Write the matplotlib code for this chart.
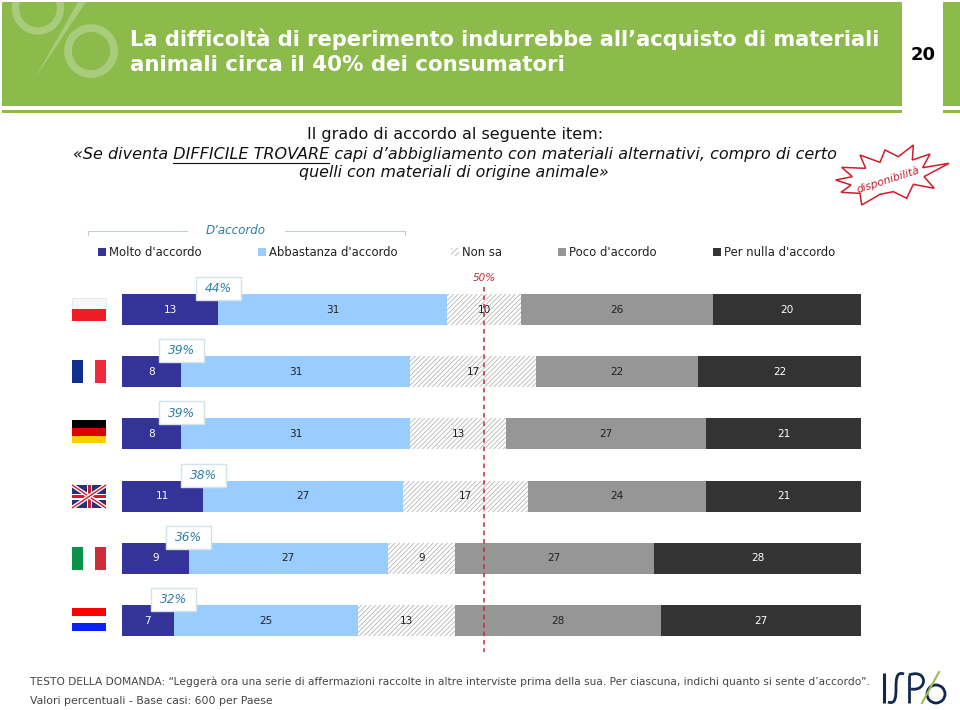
import numpy as np
import matplotlib
matplotlib.use('Agg')
from matplotlib import pyplot as plt
from matplotlib.patches import Rectangle, Polygon, Ellipse, PathPatch
from matplotlib.path import Path

countries = ['Polonia', 'Francia', 'Germania', 'Regno Unito', 'Italia', 'Olanda']
series_names = ["Molto d'accordo", "Abbastanza d'accordo", 'Non sa', "Poco d'accordo", "Per nulla d'accordo"]
molto = [13, 8, 8, 11, 9, 7]
abbastanza = [31, 31, 31, 27, 27, 25]
non_sa = [10, 17, 13, 17, 9, 13]
poco = [26, 22, 27, 24, 27, 28]
per_nulla = [20, 22, 21, 21, 28, 27]
totale_accordo = ['44%', '39%', '39%', '38%', '36%', '32%']

GREEN = '#8cbb4b'
LIGHT_GREEN = '#a8cb7c'
colors = ['#333399', '#99ccff', 'white', '#969696', '#333333']
label_colors = ['white', '#222222', '#222222', '#222222', 'white']
BLUE_TXT = '#2f7fa8'
RED = '#c8283c'

plt.rcParams['hatch.linewidth'] = 0.6
fig = plt.figure(figsize=(9.6, 7.1), dpi=100)

# page layer, in pixels of the slide
bg = fig.add_axes([0, 0, 1, 1])
bg.set_xlim(0, 960)
bg.set_ylim(710, 0)
bg.axis('off')

header = Rectangle((2, 2), 900, 104, fc=GREEN, ec='none')
bg.add_patch(header)
bg.add_patch(Rectangle((2, 110), 900, 3, fc=GREEN, ec='none'))
bg.add_patch(Rectangle((943, 2), 17, 104, fc=GREEN, ec='none'))
bg.add_patch(Rectangle((943, 110), 17, 3, fc=GREEN, ec='none'))

# % watermark
top_ring = Ellipse((38, 8), 45, 46, fc='none', ec=LIGHT_GREEN, lw=5.2)
bg.add_patch(top_ring)
top_ring.set_clip_path(header)
bg.add_patch(Ellipse((91, 51), 46, 46, fc='none', ec=LIGHT_GREEN, lw=5.6))
bg.add_patch(Polygon([[86, 2], [78, 2], [35, 78]], fc=LIGHT_GREEN, ec='none'))

bg.text(130, 39, "La difficoltà di reperimento indurrebbe all’acquisto di materiali", color='white',
        fontsize=15.15, fontweight='bold', va='center', ha='left')
bg.text(130, 65, 'animali circa il 40% dei consumatori', color='white',
        fontsize=15.4, fontweight='bold', va='center', ha='left')
bg.text(923, 55, '20', color='black', fontsize=13, fontweight='bold', va='center', ha='center')

bg.text(455, 134, 'Il grado di accordo al seguente item:', fontsize=11.5, ha='center', va='center', color='#111111')
bg.text(455, 154, '«Se diventa DIFFICILE TROVARE capi d’abbigliamento con materiali alternativi, compro di certo',
        fontsize=11.55, style='italic', ha='center', va='center', color='#111111')
bg.text(454, 173, 'quelli con materiali di origine animale»', fontsize=11.4, style='italic',
        ha='center', va='center', color='#111111')
bg.plot([173, 329], [162.5, 162.5], color='#111111', lw=0.8)

star_x = np.array([265, 262, 315, 293, 372, 297, 328, 265, 245, 205, 165, 110, 105, 48, 78, 32, 82, 50, 122, 105, 165, 180, 220])
star_y = np.array([30, 75, 57, 98, 85, 125, 160, 148, 190, 170, 178, 210, 175, 172, 150, 135, 125, 97, 100, 60, 82, 45, 65])
bg.add_patch(Polygon(np.column_stack([825 + star_x / 3, 135 + star_y / 3]), fc='white', ec='#d01c2c', lw=1.1,
                     joinstyle='miter'))
bg.text(888, 180, 'disponibilità', color='#c0202f', fontsize=7.8, style='italic', rotation=18,
        ha='center', va='center')

# D'accordo bracket
bg.plot([88, 88, 187], [235, 231, 231], color='#bcd0d8', lw=0.8)
bg.plot([285, 405, 405], [231, 231, 235], color='#bcd0d8', lw=0.8)
bg.text(236, 231, 'D’accordo', color=BLUE_TXT, style='italic', fontsize=8.6, ha='center', va='center')

# legend drawn by hand to keep the slide's spacing
leg_x = [98, 258, 451, 558, 713]
for i, name in enumerate(series_names):
    if name == 'Non sa':
        bg.add_patch(Rectangle((leg_x[i], 248), 8, 8, fc='white', ec='#b5b5b5', lw=0, hatch='//////'))
    else:
        bg.add_patch(Rectangle((leg_x[i], 248), 8, 8, fc=colors[i], ec='none'))
    bg.text(leg_x[i] + 11, 252.5, name, fontsize=8.35, color='#222222', ha='left', va='center')

# flags
def band(x, y, w, h, c):
    bg.add_patch(Rectangle((x, y), w, h, fc=c, ec='none'))

band(72, 298, 34, 11, '#f7f7f7')
bg.add_patch(Rectangle((72, 298), 34, 11, fc='none', ec='#e4e4e4', lw=0.5))
band(72, 309, 34, 12, '#ee1c25')
band(72, 360, 11, 23, '#0f2f8f')
band(95, 360, 11, 23, '#ee2a3c')
band(72, 420, 34, 8, '#000000')
band(72, 428, 34, 7.5, '#dd0000')
band(72, 435.5, 34, 7.5, '#ffce00')
band(72, 485, 34, 23, '#2a2f78')
for ys in ([485, 508], [508, 485]):
    bg.plot([72, 106], ys, color='white', lw=3, solid_capstyle='butt')
    bg.plot([72, 106], ys, color='#cf1b2b', lw=1, solid_capstyle='butt')
band(87, 485, 5, 23, 'white')
band(72, 493.5, 34, 6, 'white')
band(88, 485, 3, 23, '#cf1b2b')
band(72, 495, 34, 3, '#cf1b2b')
band(72, 547, 11, 23, '#0a9348')
band(95, 547, 11, 23, '#ce2b37')
band(72, 608, 34, 7.5, '#ff0000')
band(72, 623, 34, 7.5, '#0a22ff')

# stacked bars
ax = fig.add_axes([122 / 960, 1 - 651.6 / 710, (861 - 122) / 960, 373.2 / 710])
ax.set_xlim(0, 100)
ax.set_ylim(5.5, -0.5)
ax.axis('off')
ax.patch.set_alpha(0)

y = np.arange(len(countries))
left = np.zeros(len(countries))
for i, vals in enumerate([molto, abbastanza, non_sa, poco, per_nulla]):
    vals = np.array(vals)
    if i == 2:
        ax.barh(y, vals, left=left, height=0.5, color='white', edgecolor='#b5b5b5', linewidth=0, hatch='///////')
    else:
        ax.barh(y, vals, left=left, height=0.5, color=colors[i], linewidth=0)
    for j, v in enumerate(vals):
        ax.text(left[j] + v / 2, y[j], str(v), fontsize=7.6, color=label_colors[i], ha='center', va='center', zorder=6)
    left = left + vals

# total boxes sit on the Molto / Abbastanza boundary
for j, txt in enumerate(totale_accordo):
    x0 = 122 + molto[j] * 7.39
    yc = 309.5 + j * 62.2 - 21
    ax.add_patch(Rectangle((x0 - 22.5, yc - 11.5), 45, 23, fc='white', ec='#d5e3e8', lw=1, zorder=5,
                           transform=bg.transData, clip_on=False))
    ax.annotate(txt, xy=(molto[j], y[j]), xytext=(0, 15), textcoords='offset points', fontsize=8.8,
                style='italic', color=BLUE_TXT, ha='center', va='center', zorder=7, annotation_clip=False)

# 50% line
ax.plot([49, 49], [-0.36, 5.5], color=RED, lw=1.1, ls=(0, (3, 2.5)), zorder=5, clip_on=False)
bg.text(484, 278, '50%', color=RED, style='italic', fontsize=7.5, ha='center', va='center')

# footer
bg.text(30, 681.5, 'TESTO DELLA DOMANDA: “Leggerà ora una serie di affermazioni raccolte in altre interviste prima della sua. '
        'Per ciascuna, indichi quanto si sente d’accordo”.', fontsize=7.68, color='#444444', ha='left', va='center')
bg.text(30, 701, 'Valori percentuali - Base casi: 600 per Paese', fontsize=7.8, color='#444444', ha='left', va='center')

# logo
NAVY = '#12284c'
bg.plot([884, 884], [673, 703], color=NAVY, lw=2.2, solid_capstyle='butt')
bg.add_patch(PathPatch(Path([(904, 674), (896, 671), (896, 680), (896, 688), (896, 696), (896, 705), (888, 702)],
                            [1, 4, 4, 4, 4, 4, 4]), fc='none', ec=NAVY, lw=2))
bg.plot([909, 909], [703, 675], color=NAVY, lw=2, solid_capstyle='butt')
bg.add_patch(PathPatch(Path([(909, 675), (928, 668), (928, 692), (911, 689)], [1, 4, 4, 4]), fc='none', ec=NAVY, lw=2))
bg.plot([922, 939], [703, 672], color='#9dbb55', lw=1.5)
bg.add_patch(Ellipse((936, 694), 18, 18, fc='none', ec=NAVY, lw=2))

fig.savefig('out.png', dpi=100)
